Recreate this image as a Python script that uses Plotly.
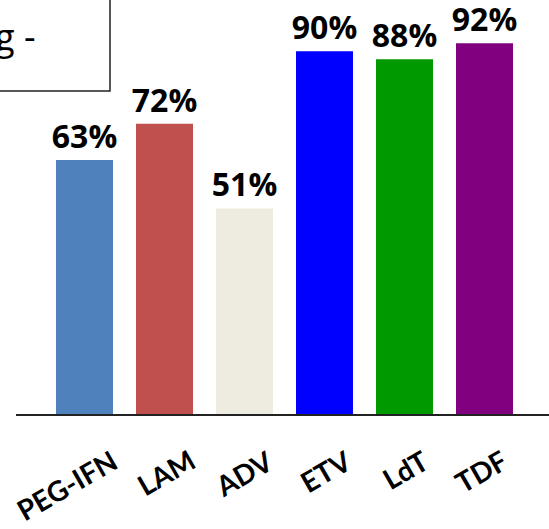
import plotly.graph_objects as go

categories = ["PEG-IFN", "LAM", "ADV", "ETV", "LdT", "TDF"]
values = [63, 72, 51, 90, 88, 92]
colors = ["#4F81BD", "#C0504D", "#EEECE1", "#0000FF", "#009900", "#800080"]
box_text = "g -"

W, H = 549, 529
L, B = 16, 115
plot_w = W - L
plot_h = H - B

def px_x(p):
    return (p - L) / plot_w

def px_y(p):
    return (plot_h - p) / plot_h

fig = go.Figure()
fig.add_trace(go.Bar(
    x=list(range(len(categories))),
    y=values,
    marker=dict(color=colors, line=dict(width=0)),
    text=[f"{v}%" for v in values],
    textposition="outside",
    constraintext="none",
    textfont=dict(family="Open Sans", size=32, color="black", weight="bold"),
    cliponaxis=False,
    width=0.7125,
))

annotations = []
for i, c in enumerate(categories):
    annotations.append(dict(
        x=i, y=0, xref="x", yref="y",
        text=f"<b>{c}</b>", showarrow=False,
        textangle=-30, xanchor="right", yanchor="top",
        xshift=41 - 2.0 * i, yshift=-26,
        font=dict(family="Lato", size=28, color="black"),
    ))
annotations.append(dict(
    x=px_x(37), y=px_y(36), xref="paper", yref="paper",
    text=box_text, showarrow=False, xanchor="right", yanchor="middle",
    font=dict(family="Open Sans", size=36, color="black"),
))

fig.update_layout(
    width=W, height=H,
    margin=dict(l=L, r=0, t=0, b=B, pad=0),
    paper_bgcolor="white", plot_bgcolor="white",
    showlegend=False,
    xaxis=dict(range=[(L - 84.5) / 80, (W - 84.5) / 80], showticklabels=False,
               showgrid=False, zeroline=False, showline=True,
               linecolor="#222222", linewidth=2, ticks=""),
    yaxis=dict(range=[0, plot_h / 4.03], visible=False),
    annotations=annotations,
    shapes=[dict(type="rect", xref="paper", yref="paper",
                 x0=px_x(-5), x1=px_x(110), y0=px_y(91), y1=px_y(-5),
                 line=dict(color="#222222", width=1.5), fillcolor="rgba(0,0,0,0)")],
)

fig.write_html("out.html")
